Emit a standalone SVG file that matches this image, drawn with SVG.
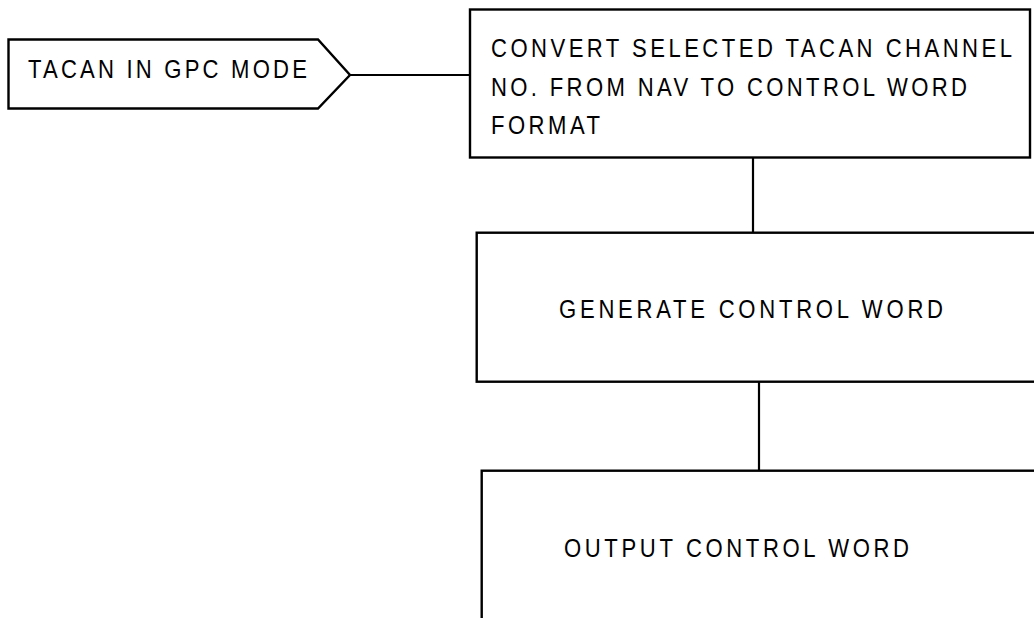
<svg xmlns="http://www.w3.org/2000/svg" width="1034" height="618" viewBox="0 0 1034 618">
<style>
.box{fill:#fff;stroke:#000;stroke-width:2.4}
.conn{fill:none;stroke:#000;stroke-width:2.2}
.t{font-family:"Liberation Sans",Arial,sans-serif;font-size:26px;fill:#000}
</style>
<rect width="1034" height="618" fill="#fff"/>
<g id="connectors">
<line class="conn" x1="350" y1="75" x2="470" y2="75"/>
<line class="conn" x1="753" y1="157.5" x2="753" y2="232.7"/>
<line class="conn" x1="759" y1="381.7" x2="759" y2="470.7"/>
</g>
<g id="node-tacan">
<polygon class="box" points="8.5,39.5 318,39.5 350,75 318,108.5 8.5,108.5"/>
<text class="t" transform="translate(28,78) scale(0.85,1)" textLength="328.2" lengthAdjust="spacing">TACAN IN GPC MODE</text>
</g>
<g id="node-convert">
<rect class="box" x="470" y="9.5" width="560" height="148"/>
<text class="t" transform="translate(491,57) scale(0.85,1)" textLength="612.9" lengthAdjust="spacing">CONVERT SELECTED TACAN CHANNEL</text>
<text class="t" transform="translate(491,96) scale(0.85,1)" textLength="560" lengthAdjust="spacing">NO. FROM NAV TO CONTROL WORD</text>
<text class="t" transform="translate(491,134) scale(0.85,1)" textLength="128.2" lengthAdjust="spacing">FORMAT</text>
</g>
<g id="node-generate">
<rect class="box" x="476.7" y="232.7" width="570" height="149"/>
<text class="t" transform="translate(559,318) scale(0.85,1)" textLength="451.8" lengthAdjust="spacing">GENERATE CONTROL WORD</text>
</g>
<g id="node-output">
<rect class="box" x="481.7" y="470.7" width="570" height="160"/>
<text class="t" transform="translate(564,557) scale(0.85,1)" textLength="405.9" lengthAdjust="spacing">OUTPUT CONTROL WORD</text>
</g>
</svg>
